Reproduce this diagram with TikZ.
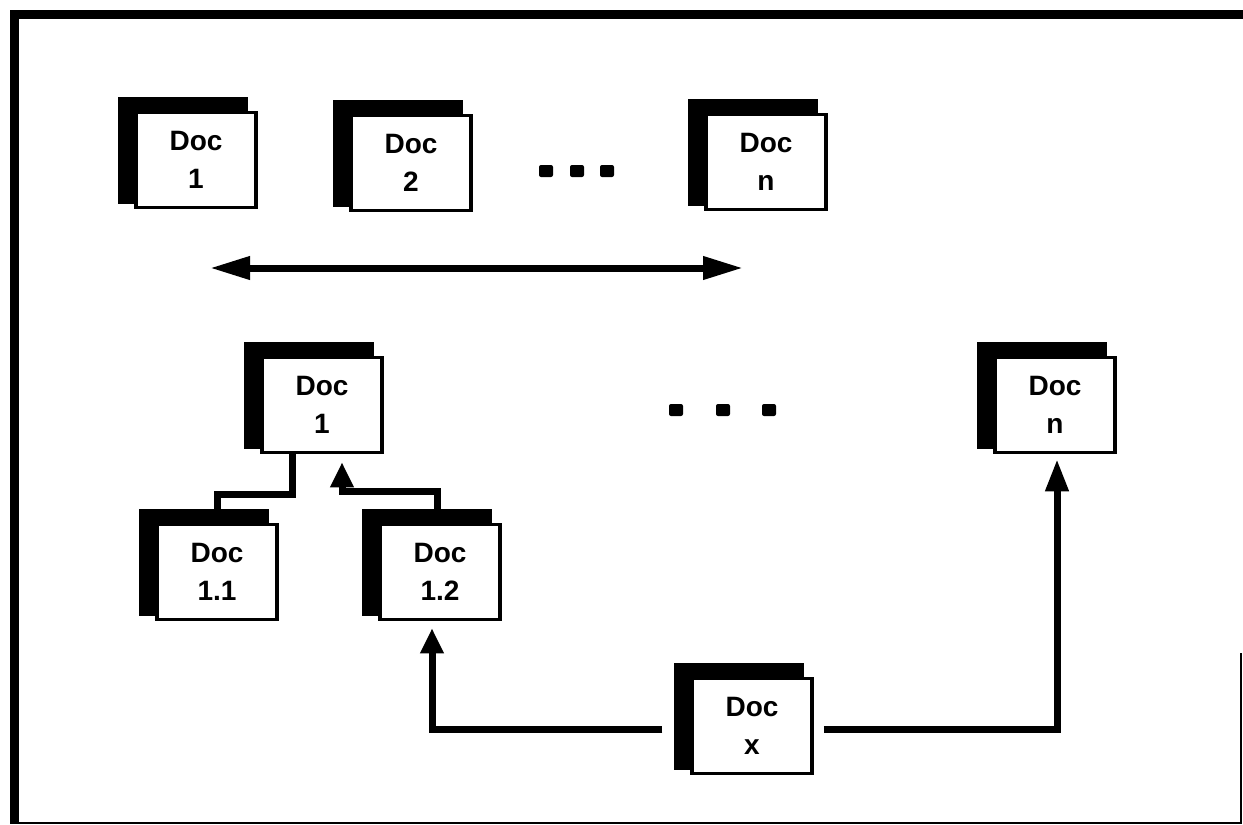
\documentclass[tikz,border=0pt]{standalone}
\usepackage{fontspec}
\setmainfont{Liberation Sans}
\usetikzlibrary{arrows.meta,backgrounds}
\tikzset{
  docbox/.style={draw, line width=3.5pt, fill=white, minimum width=120pt,
    minimum height=95pt, inner sep=0pt, align=center,
    font=\bfseries\fontsize{28}{38}\selectfont},
  docback/.style={fill=black},
  conn/.style={line width=7pt},
  frame thick/.style={line width=9pt},
  frame thin/.style={line width=2pt},
  dotmark/.style={fill=black, rounded corners=2pt, minimum width=14pt,
    minimum height=12pt, inner sep=0pt},
  bigtip/.style={-{Triangle[length=25pt,width=22pt]}},
}
\newcommand\docicon[3]{%
  \node[docbox] (#1) at (#2) {#3};
  \begin{pgfonlayer}{background}
    \fill[docback] ([shift={(-16pt,14pt)}]#1.north west) rectangle ([shift={(-10pt,5pt)}]#1.south east);
  \end{pgfonlayer}}
\begin{document}
\begin{tikzpicture}[x=1pt,y=-1pt]
\useasboundingbox (0,0) rectangle (1243,825);
% frame
\coordinate (ftl) at (14,10);
\coordinate (ftr) at (1243,14);
\coordinate (fbl) at (14,823);
\draw[frame thick] (10,14) -- (ftr);
\draw[frame thick] (ftl) -- (fbl);
\draw[frame thin] (10,823) -- (1241,823) -- (1241,653);
% documents
\docicon{T1}{196,160}{Doc\\1}
\docicon{T2}{411,163}{Doc\\2}
\docicon{Tn}{766,162}{Doc\\n}
\docicon{D1}{322,405}{Doc\\1}
\docicon{Dn}{1055,405}{Doc\\n}
\docicon{D11}{217,572}{Doc\\1.1}
\docicon{D12}{440,572}{Doc\\1.2}
\docicon{Dx}{752,726}{Doc\\x}
% dots
\node[dotmark] (ta) at (546,171) {};
\node[dotmark] (tb) at (577,171) {};
\node[dotmark] (tc) at (607,171) {};
\node[dotmark] (ba) at (676,410) {};
\node[dotmark] (bb) at (723,410) {};
\node[dotmark] (bc) at (769,410) {};
% double arrow
\coordinate (la) at (210,268);
\coordinate (ra) at (743,268);
\draw[conn,{Triangle[length=40pt,width=22pt]}-{Triangle[length=40pt,width=22pt]}] (la) -- (ra);
% tree connectors
\draw[conn] ([xshift=-30pt]D1.south) -- ++(0,40) -| ([yshift=14pt]D11.north);
\draw[conn,bigtip,shorten >=8pt] ([xshift=-3pt,yshift=14pt]D12.north) -- ++(0,-17) -| ([xshift=20pt]D1.south);
\draw[conn,bigtip,shorten >=7pt] ([xshift=-28pt,yshift=-3pt]Dx.west) -| ([xshift=-8pt]D12.south);
\draw[conn,-{Triangle[length=32pt,width=22pt]},shorten >=5pt] ([xshift=10pt,yshift=-3pt]Dx.east) -| ([xshift=2pt]Dn.south);
\end{tikzpicture}
\end{document}
